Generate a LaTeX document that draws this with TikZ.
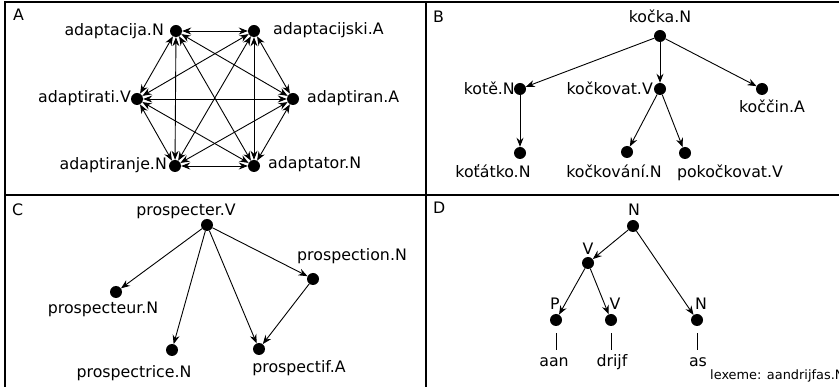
\documentclass[tikz,border=0pt]{standalone}
\usepackage{fontspec}
\setmainfont{DejaVu Sans}
\usetikzlibrary{arrows.meta}
\begin{document}
\begin{tikzpicture}[x=1pt,y=-1pt,
  dot/.style={circle,fill=black,minimum size=12pt,inner sep=0pt},
  lbl/.style={inner sep=0pt,font=\fontsize{15.8}{19}\selectfont},
  small/.style={inner sep=0pt,font=\fontsize{12.9}{16}\selectfont},
  leaf/.style={lbl,text height=11pt,text depth=3pt},
  tip/.tip={Stealth[length=9pt,width=7pt,inset=3pt]},
  edge/.style={-tip,line width=0.9pt},
  bedge/.style={tip-tip,line width=0.9pt},
  stem/.style={line width=0.9pt},
  frame/.style={line width=1.5pt}]
\clip (0,0) rectangle (839,387);
\draw[frame] (5,2) rectangle (860,400);
\draw[frame] (426,2) -- (426,400);
\draw[frame] (5,195) -- (860,195);

% panel labels
\node[lbl,anchor=base west] (pA) at (13,21) {A};
\node[lbl,anchor=base west] (pB) at (433,23) {B};
\node[lbl,anchor=base west] (pC) at (12,216) {C};
\node[lbl,anchor=base west] (pD) at (433,214) {D};

% ---------- Panel A ----------
\node[dot] (a1) at (176,31) {};
\node[dot] (a2) at (254,31) {};
\node[dot] (a3) at (137,99) {};
\node[dot] (a4) at (293,99) {};
\node[dot] (a5) at (175,166) {};
\node[dot] (a6) at (254,166) {};
\node[lbl,anchor=base east] (la1) at (164,36) {adaptacija.N};
\node[lbl,anchor=base west] (la2) at (273,35) {adaptacijski.A};
\node[lbl,anchor=base east] (la3) at (131,103) {adaptirati.V};
\node[lbl,anchor=base west] (la4) at (307,103) {adaptiran.A};
\node[lbl,anchor=base east] (la5) at (167,170) {adaptiranje.N};
\node[lbl,anchor=base west] (la6) at (268,169) {adaptator.N};
\foreach \i/\j in {a1/a2,a1/a3,a1/a4,a1/a5,a1/a6,a2/a3,a2/a4,a2/a5,a2/a6,a3/a4,a3/a5,a3/a6,a4/a5,a4/a6,a5/a6}
  \draw[bedge] (\i) -- (\j);

% ---------- Panel B ----------
\node[dot] (b1) at (660,36) {};
\node[dot] (b2) at (520,89) {};
\node[dot] (b3) at (660,89) {};
\node[dot] (b4) at (762,89) {};
\node[dot] (b5) at (520,153) {};
\node[dot] (b6) at (627,152) {};
\node[dot] (b7) at (685,153) {};
\node[lbl,anchor=base] (lb1) at (660,23) {kočka.N};
\node[lbl,anchor=base east] (lb2) at (515,95) {kotě.N};
\node[lbl,anchor=base east] (lb3) at (653,95) {kočkovat.V};
\node[lbl,anchor=base] (lb4) at (772,113) {koččin.A};
\node[lbl,anchor=base] (lb5) at (493,178) {koťátko.N};
\node[lbl,anchor=base] (lb6) at (614,178) {kočkování.N};
\node[lbl,anchor=base] (lb7) at (730,178) {pokočkovat.V};
\draw[edge] (b1) -- (b2);
\draw[edge] (b1) -- (b3);
\draw[edge] (b1) -- (b4);
\draw[edge] (b2) -- (b5);
\draw[edge] (b3) -- (b6);
\draw[edge] (b3) -- (b7);

% ---------- Panel C ----------
\node[dot] (c1) at (207,225) {};
\node[dot] (c2) at (313,279) {};
\node[dot] (c3) at (116,292) {};
\node[dot] (c4) at (172,350) {};
\node[dot] (c5) at (259,349) {};
\node[lbl,anchor=base] (lc1) at (186,216) {prospecter.V};
\node[lbl,anchor=base] (lc2) at (352,261) {prospection.N};
\node[lbl,anchor=base] (lc3) at (103,314) {prospecteur.N};
\node[lbl,anchor=base] (lc4) at (134,378) {prospectrice.N};
\node[lbl,anchor=base] (lc5) at (299,373) {prospectif.A};
\draw[edge] (c1) -- (c3);
\draw[edge] (c1) -- (c4);
\draw[edge] (c1) -- (c5);
\draw[edge] (c1) -- (c2);
\draw[edge] (c2) -- (c5);

% ---------- Panel D ----------
\node[dot] (d1) at (633,226) {};
\node[dot] (d2) at (588,263) {};
\node[dot] (d3) at (556,320) {};
\node[dot] (d4) at (611,320) {};
\node[dot] (d5) at (697,320) {};
\node[lbl,anchor=base] (ld1) at (634,216) {N};
\node[lbl,anchor=base] (ld2) at (588,255) {V};
\node[lbl,anchor=base] (ld3) at (555,310) {P};
\node[lbl,anchor=base] (ld4) at (615,310) {V};
\node[lbl,anchor=base] (ld5) at (701,310) {N};
\node[leaf,anchor=base] (t1) at (554,367) {aan};
\node[leaf,anchor=base] (t2) at (612,367) {drijf};
\node[leaf,anchor=base] (t3) at (698,367) {as};
\node[small,anchor=base west] (lex) at (710,380) {lexeme: aandrijfas.N};
\draw[edge] (d1) -- (d2);
\draw[edge] (d1) -- (d5);
\draw[edge] (d2) -- (d3);
\draw[edge] (d2) -- (d4);
\draw[stem] ([yshift=-7pt]d3.south) -- ([yshift=6pt]d3 |- t1.north);
\draw[stem] ([yshift=-7pt]d4.south) -- ([yshift=6pt]d4 |- t2.north);
\draw[stem] ([yshift=-7pt]d5.south) -- ([yshift=6pt]d5 |- t3.north);
\end{tikzpicture}
\end{document}
